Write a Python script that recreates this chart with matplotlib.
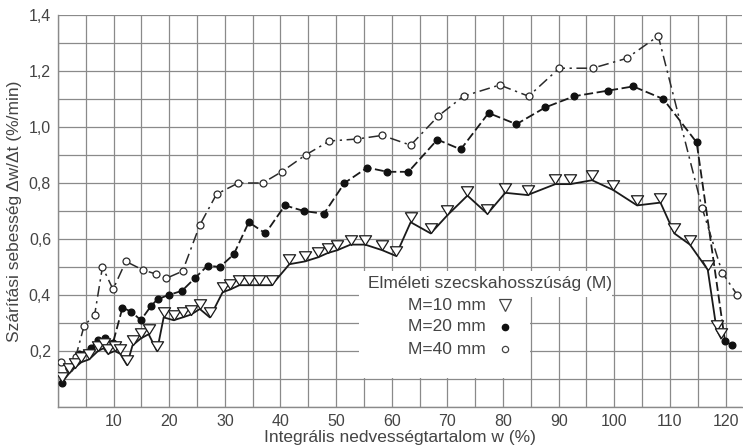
import matplotlib.pyplot as plt
import numpy as np
from matplotlib.path import Path
from matplotlib.patches import Rectangle

plt.rcParams['font.family'] = ['Liberation Sans', 'DejaVu Sans']

# M=10 mm (triangles, solid line)
x10 = [0.8, 2.0, 3.0, 4.2, 5.6, 7.2, 8.2, 9.0, 10.2, 11.2, 12.4, 13.4, 14.9, 16.3,
       17.8, 19.0, 20.8, 22.4, 23.9, 25.5, 27.3, 29.6, 31.0, 32.6, 34.4, 36.2, 38.4,
       41.6, 44.4, 46.8, 48.5, 50.2, 52.6, 55.2, 58.3, 60.7, 63.4, 67.0, 70.0, 73.6,
       77.2, 80.4, 84.4, 89.4, 92.1, 96.0, 99.8, 104.1, 108.3, 110.8, 113.6, 116.8,
       118.4, 119.2]
y10 = [0.09, 0.12, 0.14, 0.16, 0.17, 0.20, 0.21, 0.19, 0.20, 0.19, 0.15, 0.22, 0.245,
       0.26, 0.20, 0.32, 0.31, 0.32, 0.33, 0.35, 0.32, 0.41, 0.42, 0.435, 0.435, 0.435,
       0.435, 0.51, 0.52, 0.535, 0.55, 0.56, 0.58, 0.58, 0.56, 0.54, 0.66, 0.62, 0.685,
       0.755, 0.69, 0.765, 0.757, 0.796, 0.796, 0.81, 0.775, 0.72, 0.73, 0.62, 0.58,
       0.49, 0.275, 0.245]

# M=20 mm (filled dots, dashed line)
x20 = [0.7, 2.0, 3.8, 5.9, 7.2, 8.4, 9.9, 11.6, 13.2, 14.9, 16.7, 17.9, 19.9, 22.3,
       24.6, 26.9, 29.1, 31.6, 34.3, 37.3, 40.8, 44.2, 47.8, 51.5, 55.6, 59.2, 63.0,
       68.2, 72.4, 77.4, 82.4, 87.6, 92.8, 98.9, 103.4, 108.8, 114.8, 119.9, 121.2]
y20 = [0.085, 0.14, 0.19, 0.21, 0.24, 0.245, 0.23, 0.355, 0.34, 0.31, 0.36, 0.385,
       0.40, 0.415, 0.46, 0.505, 0.50, 0.545, 0.66, 0.62, 0.72, 0.70, 0.69, 0.80,
       0.855, 0.84, 0.84, 0.955, 0.92, 1.05, 1.01, 1.07, 1.11, 1.13, 1.145, 1.10,
       0.945, 0.235, 0.22]

# M=40 mm (open circles, dash-dot line)
x40 = [0.5, 2.0, 3.2, 4.7, 6.6, 8.0, 9.9, 12.2, 15.2, 17.6, 19.5, 22.4, 25.5, 28.5,
       32.4, 36.8, 40.2, 44.5, 48.8, 53.7, 58.3, 63.4, 68.4, 72.9, 79.4, 84.6, 90.1,
       96.1, 102.2, 107.9, 115.8, 119.4, 122.1]
y40 = [0.16, 0.14, 0.18, 0.29, 0.33, 0.50, 0.42, 0.52, 0.49, 0.475, 0.46, 0.485,
       0.65, 0.76, 0.80, 0.80, 0.84, 0.90, 0.95, 0.957, 0.97, 0.935, 1.04, 1.11, 1.15,
       1.11, 1.21, 1.21, 1.245, 1.325, 0.71, 0.48, 0.40]

xticks = [10, 20, 30, 40, 50, 60, 70, 80, 90, 100, 110, 120]
yticks = [0.2, 0.4, 0.6, 0.8, 1.0, 1.2, 1.4]
ytick_labels = ['0,2', '0,4', '0,6', '0,8', '1,0', '1,2', '1,4']
labels = ['M=10 mm', 'M=20 mm', 'M=40 mm']

# triangle pointing down with its tip on the data point
tri = Path([(-1, 1.6), (1, 1.6), (0, 0), (0, 0)], closed=True)

fig = plt.figure(figsize=(7.43, 4.48), dpi=100)
ax = fig.add_axes([0.078, 0.0915, 0.921, 0.875])

ax.plot(x10, y10, color='#1a1a1a', lw=1.3, ls='-', zorder=3)
ax.plot(x10, y10, ls='none', marker=tri, ms=14, mfc='white', mec='#1a1a1a',
        mew=0.9, zorder=4)
ax.plot(x20, y20, color='#1a1a1a', lw=1.3, ls=(0, (5, 2)), marker='o', ms=4.8,
        mfc='#111111', mec='#111111', zorder=3)
ax.plot(x40, y40, color='#2a2a2a', lw=1.1, ls=(0, (7, 3, 1.5, 3)), marker='o',
        ms=5, mfc='white', mec='#2a2a2a', mew=0.9, zorder=3)

ax.set_xlim(0, 123)
ax.set_ylim(0, 1.4)
ax.set_xticks(np.arange(0, 125, 5), minor=True)
ax.set_yticks(np.arange(0, 1.45, 0.1), minor=True)
ax.set_xticks(xticks)
ax.set_yticks(yticks)
ax.set_yticklabels(ytick_labels)
ax.tick_params(which='both', length=0, labelsize=11.5, labelcolor='#444444', pad=5)
ax.grid(True, which='both', color='#8a8a8a', lw=0.9)
ax.set_axisbelow(True)
for side in ['top', 'right']:
    ax.spines[side].set_visible(False)
for side in ['left', 'bottom']:
    ax.spines[side].set_color('#8a8a8a')
    ax.spines[side].set_linewidth(1.0)

ax.set_xlabel('Integrális nedvességtartalom w (%)', fontsize=12.5, color='#444444',
              labelpad=1)
ax.set_ylabel('Szárítási sebesség \u0394w/\u0394t (%/min)', fontsize=12.5,
              color='#444444', labelpad=5)

# legend block on white background
ax.add_patch(Rectangle((0.44, 0.074), 0.25, 0.273, transform=ax.transAxes,
                       facecolor='white', edgecolor='none', zorder=1))
ax.add_patch(Rectangle((0.44, 0.281), 0.37, 0.066, transform=ax.transAxes,
                       facecolor='white', edgecolor='none', zorder=1))
ax.text(0.4526, 0.316, 'Elméleti szecskahosszúság (M)', transform=ax.transAxes,
        fontsize=12.5, color='#444444', ha='left', va='center', zorder=5)
ys = [0.260, 0.205, 0.147]
for lab, yy in zip(labels, ys):
    ax.text(0.625, yy, lab, transform=ax.transAxes, fontsize=12.5, color='#444444',
            ha='right', va='center', zorder=5)
ax.plot([0.6526], [ys[0]], transform=ax.transAxes, marker='v', ms=8, mfc='white',
        mec='#444444', mew=0.9, ls='none', clip_on=False, zorder=5)
ax.plot([0.6526], [ys[1]], transform=ax.transAxes, marker='o', ms=4.5, mfc='#111111',
        mec='#111111', ls='none', clip_on=False, zorder=5)
ax.plot([0.6526], [ys[2]], transform=ax.transAxes, marker='o', ms=4.5, mfc='white',
        mec='#444444', mew=0.9, ls='none', clip_on=False, zorder=5)

fig.savefig('out.png', dpi=100)
